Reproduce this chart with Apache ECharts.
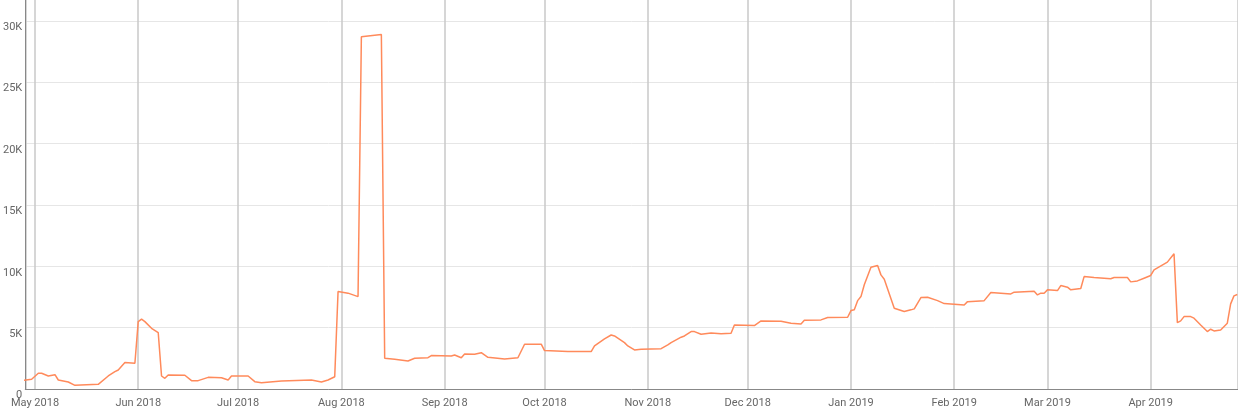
<!DOCTYPE html>
<html>
<head>
<meta charset="utf-8">
<script src="https://cdn.jsdelivr.net/npm/echarts@6/dist/echarts.min.js"></script>
<style>html,body{margin:0;padding:0;background:#fff;}#c{width:1238px;height:410px;}</style>
</head>
<body>
<div id="c"></div>
<script>
const dates = [
'2018-04-27','2018-04-30','2018-05-02','2018-05-03','2018-05-05','2018-05-07','2018-05-08','2018-05-11','2018-05-13','2018-05-20',
'2018-05-23','2018-05-25','2018-05-26','2018-05-28','2018-05-31','2018-06-01','2018-06-02','2018-06-03','2018-06-05','2018-06-07',
'2018-06-08','2018-06-09','2018-06-10','2018-06-15','2018-06-17','2018-06-19','2018-06-22','2018-06-26','2018-06-28','2018-06-29',
'2018-07-04','2018-07-06','2018-07-08','2018-07-14','2018-07-23','2018-07-26','2018-07-28','2018-07-30','2018-07-31','2018-08-03',
'2018-08-06','2018-08-07','2018-08-13','2018-08-14','2018-08-17','2018-08-21','2018-08-23','2018-08-27','2018-08-28','2018-09-03',
'2018-09-04','2018-09-06','2018-09-07','2018-09-10','2018-09-12','2018-09-14','2018-09-19','2018-09-23','2018-09-25','2018-09-30',
'2018-10-01','2018-10-08','2018-10-15','2018-10-16','2018-10-19','2018-10-21','2018-10-22','2018-10-25','2018-10-26','2018-10-28',
'2018-10-30','2018-11-05','2018-11-07','2018-11-08','2018-11-11','2018-11-12','2018-11-14','2018-11-15','2018-11-17','2018-11-20',
'2018-11-23','2018-11-26','2018-11-27','2018-12-03','2018-12-05','2018-12-11','2018-12-14','2018-12-17','2018-12-18','2018-12-23',
'2018-12-25','2018-12-31','2019-01-01','2019-01-02','2019-01-03','2019-01-04','2019-01-05','2019-01-07','2019-01-09','2019-01-10',
'2019-01-11','2019-01-14','2019-01-17','2019-01-19','2019-01-20','2019-01-22','2019-01-24','2019-01-27','2019-01-29','2019-02-04',
'2019-02-05','2019-02-10','2019-02-12','2019-02-18','2019-02-19','2019-02-25','2019-02-26','2019-02-27','2019-02-28','2019-03-01',
'2019-03-04','2019-03-05','2019-03-07','2019-03-08','2019-03-11','2019-03-12','2019-03-15','2019-03-20','2019-03-21','2019-03-25',
'2019-03-26','2019-03-28','2019-03-30','2019-04-01','2019-04-02','2019-04-06','2019-04-08','2019-04-09','2019-04-10','2019-04-11',
'2019-04-13','2019-04-14','2019-04-16','2019-04-18','2019-04-19','2019-04-20','2019-04-22','2019-04-24','2019-04-25','2019-04-26',
'2019-04-27'
];
const values = [
677,790,1280,1280,1060,1170,735,570,300,380,
1060,1410,1550,2150,2100,5490,5690,5490,4950,4600,
1060,870,1140,1120,680,680,950,920,735,1060,
1060,600,515,650,735,570,735,1000,7940,7810,
7530,28700,28890,2500,2420,2285,2500,2550,2720,2690,
2770,2550,2860,2830,2960,2580,2450,2550,3650,3650,
3130,3050,3050,3510,4080,4400,4320,3780,3510,3180,
3240,3290,3590,3780,4220,4320,4680,4680,4460,4570,
4510,4540,5220,5170,5550,5520,5360,5300,5600,5630,
5820,5850,6390,6450,7200,7530,8490,9930,10060,9300,
8950,6580,6310,6450,6530,7450,7480,7200,6960,6850,
7120,7200,7860,7750,7890,7970,7670,7810,7810,8080,
8020,8430,8300,8080,8190,9160,9080,8980,9080,9080,
8730,8810,9030,9250,9710,10340,11020,5410,5550,5900,
5900,5770,5220,4680,4870,4730,4810,5360,6940,7590,
7700
];
const yMax = 31700;
const yStep = 5000;
const xMin = '2018-04-28 02:00';
const xMax = '2019-04-27 05:00';

const chart = echarts.init(document.getElementById('c'), null, {renderer: 'canvas'});
chart.setOption({
  animation: false,
  grid: {left: 23, right: 0, top: 0, bottom: 21, containLabel: false},
  xAxis: {
    type: 'time',
    min: function () { return echarts.time.parse(xMin).getTime(); },
    max: function () { return echarts.time.parse(xMax).getTime(); },
    splitNumber: 12,
    axisLine: {show: true, lineStyle: {color: '#888', width: 1}},
    axisTick: {show: false},
    axisLabel: {
      color: '#666', fontSize: 11, fontFamily: 'Roboto', margin: 9,
      hideOverlap: false,
      formatter: function (v) {
        const d = new Date(v);
        const m = ['Jan','Feb','Mar','Apr','May','Jun','Jul','Aug','Sep','Oct','Nov','Dec'];
        return m[d.getMonth()] + ' ' + d.getFullYear();
      }
    },
    splitLine: {show: true, lineStyle: {color: '#c8c8c8', width: 1.5}}
  },
  yAxis: {
    type: 'value',
    min: 0, max: yMax, interval: yStep,
    axisLine: {show: true, lineStyle: {color: '#888', width: 1}},
    axisTick: {show: false},
    axisLabel: {
      color: '#666', fontSize: 11, fontFamily: 'Roboto', margin: 3,
      verticalAlign: 'top', lineHeight: 9, padding: [2, 0, 0, 0],
      showMaxLabel: false,
      formatter: function (v) { return v === 0 ? '0' : (v % 1000 === 0 ? (v / 1000) + 'K' : ''); }
    },
    splitLine: {show: true, lineStyle: {color: ['#e6e6e6','#e6e6e6','#e6e6e6','#e6e6e6','#e6e6e6','#e6e6e6','#e6e6e6','rgba(0,0,0,0)'], width: 1}}
  },
  series: [{
    type: 'line',
    data: dates.map(function (d, i) { return [d, values[i]]; }),
    showSymbol: false,
    symbol: 'none',
    lineStyle: {color: '#ff8a5b', width: 1.5},
    itemStyle: {color: '#ff8a5b'}
  }]
});
</script>
</body>
</html>
